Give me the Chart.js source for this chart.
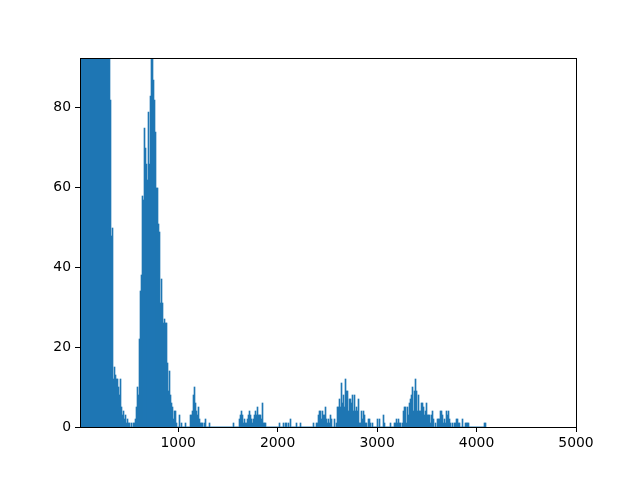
<!DOCTYPE html>
<html>
<head>
<meta charset="utf-8">
<script src="https://cdn.jsdelivr.net/npm/chart.js@4.4.1/dist/chart.umd.min.js"></script>
<style>
  html, body { margin: 0; padding: 0; background: #fff; }
  canvas { display: block; }
</style>
</head>
<body>
<canvas id="histchart" width="640" height="480"></canvas>
<script>
// histogram bins: 10 wide, starting at 10
const binStart = 10;
const binWidth = 10;
const counts = [
    412, 655, 780, 842, 870, 901, 866, 840, 812, 760,
    731, 690, 655, 610, 574, 530, 496, 452, 410, 372,
    331, 296, 260, 228, 195, 170, 148, 128, 110, 97,
    82, 48, 50, 12, 15, 13, 12, 9, 12, 10,
    8, 12, 5, 3, 4, 2, 3, 1, 2, 1,
    1, 0, 1, 0, 1, 1, 2, 5, 10, 8,
    22, 34, 38, 58, 57, 75, 70, 66, 62, 79,
    66, 83, 98, 95, 87, 82, 74, 60, 60, 51,
    49, 31, 37, 31, 26, 27, 26, 26, 16, 9,
    14, 8, 6, 5, 2, 4, 4, 1, 0, 0,
    3, 0, 1, 0, 0, 0, 1, 0, 0, 0,
    0, 3, 3, 4, 8, 10, 6, 4, 3, 5,
    2, 1, 1, 1, 0, 1, 2, 0, 0, 0,
    1, 0, 0, 0, 0, 0, 0, 0, 0, 0, 0,
    0, 0, 0, 0, 0, 0, 0, 0, 0, 0,
    0, 0, 0, 1, 0, 0, 0, 0, 0, 2,
    3, 4, 3, 1, 2, 1, 1, 2, 3, 4,
    3, 2, 1, 2, 3, 4, 3, 5, 3, 3,
    3, 2, 6, 1, 1, 1, 0, 0, 0, 0,
    0, 0, 0, 0, 0, 0, 0, 0, 0, 1,
    0, 0, 0, 1, 0, 1, 1, 0, 1, 0,
    2, 0, 0, 0, 0, 0, 1, 0, 0, 0,
    1, 0, 0, 0, 0, 0, 0, 0, 0, 0, 0,
    0, 0, 0, 1, 0, 0, 1, 1, 3, 4,
    4, 2, 4, 3, 3, 5, 2, 1, 2, 1,
    3, 2, 0, 0, 2, 0, 1, 5, 5, 7,
    5, 11, 6, 8, 5, 12, 9, 9, 4, 7,
    7, 6, 8, 4, 8, 4, 5, 4, 7, 1,
    1, 4, 2, 4, 3, 1, 1, 0, 2, 2,
    1, 0, 1, 0, 0, 0, 0, 2, 0, 2,
    0, 0, 0, 3, 1, 0, 0, 0, 0, 0,
    1, 0, 0, 0, 1, 1, 2, 1, 2, 1,
    1, 0, 1, 4, 5, 5, 1, 5, 3, 6,
    7, 8, 10, 4, 9, 12, 9, 4, 8, 4,
    4, 6, 6, 5, 3, 4, 6, 3, 3, 3,
    1, 3, 4, 2, 0, 1, 0, 2, 2, 2,
    4, 4, 3, 1, 2, 1, 4, 3, 4, 2,
    1, 0, 1, 0, 1, 1, 2, 2, 1, 1,
    0, 0, 2, 0, 0, 1, 1, 1, 1, 0, 0,
    0, 0, 0, 0, 0, 0, 0, 0, 0, 0,
    0, 0, 0, 1, 0, 1
];
const xTicks = [1000, 2000, 3000, 4000, 5000];
const yTicks = [0, 20, 40, 60, 80];
const xMin = 13, xMax = 5000;
const yMax = 92.5;

Chart.defaults.font.family = "'DejaVu Sans', sans-serif";
Chart.defaults.font.size = 13.9;
Chart.defaults.color = "#000";

// matplotlib style box round the axes
const frame = {
    id: "frame",
    afterDraw(chart) {
        const a = chart.chartArea, c = chart.ctx;
        c.save();
        c.strokeStyle = "#000";
        c.lineWidth = 1;
        c.strokeRect(Math.round(a.left) + 0.5, Math.round(a.top) + 0.5,
            Math.round(a.right - a.left), Math.round(a.bottom - a.top));
        c.restore();
    }
};

// snap the ~1px bars to whole pixels so they don't leave light seams
const snapBars = {
    id: "snapBars",
    beforeDatasetsDraw(chart) {
        chart.getDatasetMeta(0).data.forEach(function (bar) {
            const l = Math.round(bar.x - bar.width / 2);
            const r = Math.max(l + 1, Math.round(bar.x + bar.width / 2));
            bar.x = (l + r) / 2;
            bar.width = r - l;
            bar.y = Math.round(bar.y);
            bar.base = Math.round(bar.base);
        });
    }
};

const points = counts.map(function (c, i) {
    return { x: binStart + binWidth * i + binWidth / 2, y: c };
});

new Chart(document.getElementById("histchart"), {
    type: "bar",
    data: {
        datasets: [{
            data: points,
            backgroundColor: "#1f77b4",
            borderWidth: 0,
            barPercentage: 1,
            categoryPercentage: 1,
            grouped: false
        }]
    },
    options: {
        responsive: false,
        animation: false,
        layout: { padding: { top: 58, right: 64, left: 0, bottom: 0 } },
        plugins: { legend: { display: false }, tooltip: { enabled: false } },
        scales: {
            x: {
                type: "linear",
                min: xMin,
                max: xMax,
                offset: false,
                afterFit: function (s) { s.height = 53; },
                afterBuildTicks: function (s) { s.ticks = xTicks.map(v => ({ value: v })); },
                grid: { offset: false, drawOnChartArea: false, drawTicks: true, tickLength: 5, color: "#000" },
                border: { display: false },
                ticks: { padding: 3, maxRotation: 0, callback: v => String(v) }
            },
            y: {
                min: 0,
                max: yMax,
                afterFit: function (s) { s.width = 80; },
                afterBuildTicks: function (s) { s.ticks = yTicks.map(v => ({ value: v })); },
                grid: { drawOnChartArea: false, drawTicks: true, tickLength: 5, color: "#000" },
                border: { display: false },
                ticks: { padding: 4, callback: v => String(v) }
            }
        }
    },
    plugins: [snapBars, frame]
});
</script>
</body>
</html>
